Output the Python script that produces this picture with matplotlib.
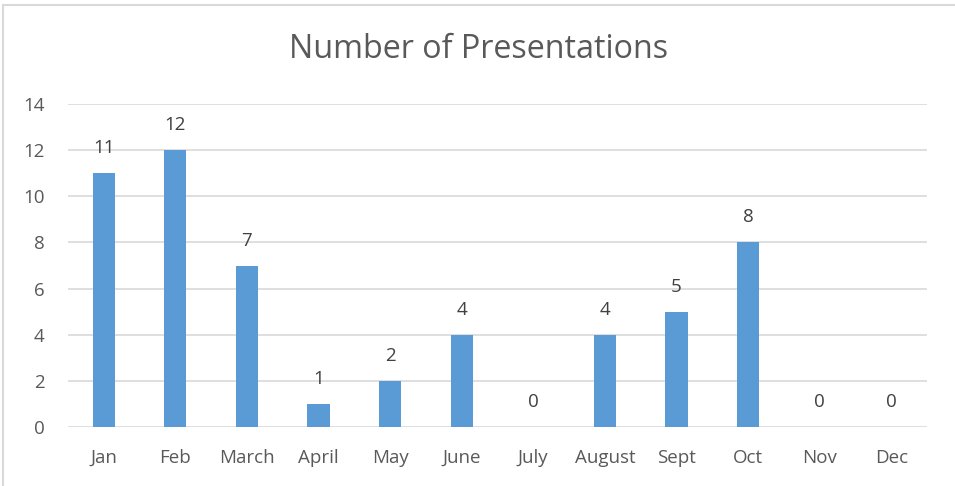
import numpy as np
import matplotlib.pyplot as plt
from matplotlib.patches import Rectangle

months = ['Jan', 'Feb', 'March', 'April', 'May', 'June', 'July',
          'August', 'Sept', 'Oct', 'Nov', 'Dec']
counts = [11, 12, 7, 1, 2, 4, 0, 4, 5, 8, 0, 0]
yticks = [0, 2, 4, 6, 8, 10, 12, 14]

W, H = 955, 486
fig = plt.figure(figsize=(W / 100, H / 100), dpi=100)
plt.rcParams['font.family'] = ['Open Sans', 'DejaVu Sans']

# chart border (only left/top visible in the crop)
fig.patches.append(Rectangle((3 / W, -0.1), 1.2, (H - 5) / H + 0.1,
                             transform=fig.transFigure, fill=False,
                             edgecolor='#d9d9d9', linewidth=1.5))

ax = fig.add_axes([68 / W, (H - 427) / H, (927 - 68) / W, (427 - 104) / H])
x = np.arange(len(months))
ax.bar(x, counts, width=0.31, color='#5b9bd5', zorder=2)

for xi, v in zip(x, counts):
    ax.annotate(str(v), (xi, v), xytext=(0, 18), textcoords='offset points',
                ha='center', va='center', fontsize=13.5, color='#404040')

ax.set_xlim(-0.5, len(months) - 0.5)
ax.set_ylim(0, 14)
ax.set_yticks(yticks)
ax.set_xticks(x)
ax.set_xticklabels(months)
ax.tick_params(axis='both', length=0, labelsize=13.5, labelcolor='#595959')
ax.tick_params(axis='x', pad=16)
ax.tick_params(axis='y', pad=17)
for s in ax.spines.values():
    s.set_visible(False)
ax.grid(axis='y', color='#d9d9d9', linewidth=1.2, zorder=0)
ax.set_axisbelow(True)

fig.text(479 / W, 1 - 50 / H, 'Number of Presentations', ha='center',
         va='center', fontsize=23.2, color='#595959')

fig.savefig('out.png', dpi=100)
